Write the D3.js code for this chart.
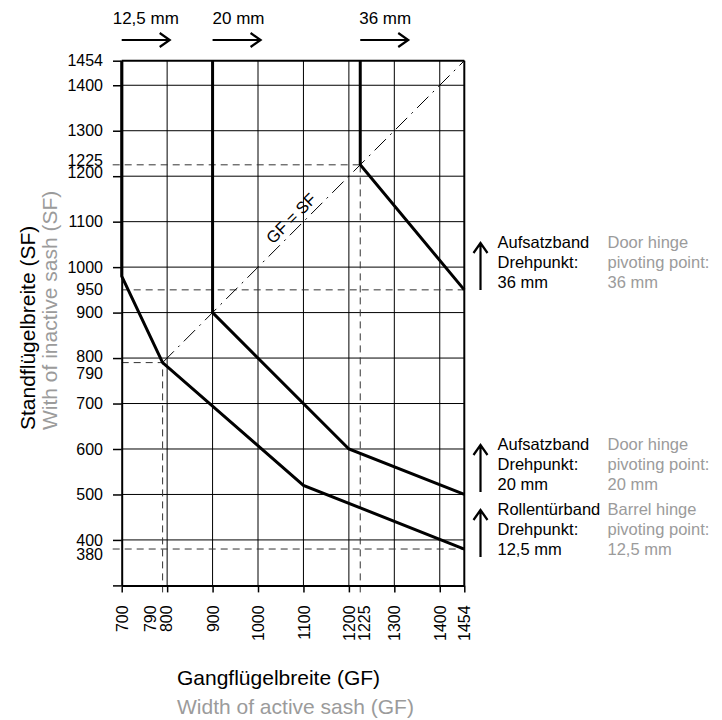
<!DOCTYPE html>
<html>
<head>
<meta charset="utf-8">
<script src="https://cdn.jsdelivr.net/npm/d3@7"></script>
<style>
body { margin: 0; background: #fff; }
svg { display: block; font-family: Arial, "Liberation Sans", sans-serif; }
</style>
</head>
<body>
<svg id="chart" width="722" height="720"></svg>
<script>
// tick values on both axes
var xTicks = [700, 790, 800, 900, 1000, 1100, 1200, 1225, 1300, 1400, 1454];
var yTicks = [300, 380, 400, 500, 600, 700, 790, 800, 900, 950, 1000, 1100, 1200, 1225, 1300, 1400, 1454];
var gridX = [800, 900, 1000, 1100, 1200, 1300, 1400];
var gridY = [400, 500, 600, 700, 800, 900, 1000, 1100, 1200, 1300, 1400];

// curves [GF, SF]
var curve125 = [[700, 1454], [700, 980], [790, 790], [1100, 520], [1454, 380]];
var curve20 = [[900, 1454], [900, 900], [1200, 600], [1454, 500]];
var curve36 = [[1225, 1454], [1225, 1225], [1454, 950]];
var diagonal = [[790, 790], [1454, 1454]];

// helper dashed lines
var dashH = [[1225, 700, 1225], [950, 700, 1454], [790, 700, 790], [380, 700, 1454]];
var dashV = [[790, 300, 790], [1225, 300, 1225]];

var hingeNames = ["12,5 mm", "20 mm", "36 mm"];
var hingeStart = [700, 900, 1225];
var notesDe = [["Aufsatzband", "Drehpunkt:", "36 mm"], ["Aufsatzband", "Drehpunkt:", "20 mm"], ["Rollentürband", "Drehpunkt:", "12,5 mm"]];
var notesEn = [["Door hinge", "pivoting point:", "36 mm"], ["Door hinge", "pivoting point:", "20 mm"], ["Barrel hinge", "pivoting point:", "12,5 mm"]];

var svg = d3.select("#chart");
var x = d3.scaleLinear().domain([700, 1454]).range([121.7, 464.3]);
var y = d3.scaleLinear().domain([300, 1454]).range([585.4, 60.7]);
var GRAY = "#9b9b9b";
var FONT = "Arial, 'Liberation Sans', sans-serif";

svg.append("rect").attr("width", 722).attr("height", 720).attr("fill", "#fff");

// grid
var g_grid = svg.append("g").attr("stroke", "#000").attr("stroke-width", 1);
g_grid.selectAll(".gx").data(gridX).enter().append("line")
    .attr("x1", d => x(d)).attr("x2", d => x(d))
    .attr("y1", y(300)).attr("y2", y(1454));
g_grid.selectAll(".gy").data(gridY).enter().append("line")
    .attr("x1", x(700)).attr("x2", x(1454))
    .attr("y1", d => y(d)).attr("y2", d => y(d));
// borders top / right
svg.append("line").attr("x1", x(700)).attr("x2", x(1454)).attr("y1", y(1454)).attr("y2", y(1454))
    .attr("stroke", "#000").attr("stroke-width", 2);
svg.append("line").attr("x1", x(1454)).attr("x2", x(1454)).attr("y1", y(300)).attr("y2", y(1454))
    .attr("stroke", "#000").attr("stroke-width", 2);

// dashed helper lines
var g_dash = svg.append("g").attr("stroke", "#333").attr("stroke-width", 1).attr("stroke-dasharray", "7,5");
g_dash.selectAll(".dh").data(dashH).enter().append("line")
    .attr("x1", d => (d[0] == 1225 || d[0] == 380) ? x(d[1]) - 9 : x(d[1]))
    .attr("x2", d => x(d[2]))
    .attr("y1", d => y(d[0])).attr("y2", d => y(d[0]));
g_dash.selectAll(".dv").data(dashV).enter().append("line")
    .attr("x1", d => x(d[0])).attr("x2", d => x(d[0]))
    .attr("y1", d => y(d[1]) + 7).attr("y2", d => y(d[2]));

// GF = SF diagonal
var line = d3.line().x(d => x(d[0])).y(d => y(d[1]));
svg.append("path").attr("d", line(diagonal)).attr("fill", "none")
    .attr("stroke", "#000").attr("stroke-width", 1).attr("stroke-dasharray", "16,6,2,6");
svg.append("text")
    .attr("transform", "translate(" + (x(1090) - 8) + "," + (y(1090) - 8) + ") rotate(-45)")
    .attr("text-anchor", "middle").attr("dominant-baseline", "central")
    .attr("font-size", 16.5).text("GF = SF");

// axes
var xAxis = d3.axisBottom(x).tickValues(xTicks).tickSize(7).tickSizeOuter(0).tickFormat(d3.format("d"));
var gx = svg.append("g").attr("transform", "translate(0," + y(300) + ")").call(xAxis);
var xShift = {790: -12.5, 800: -1.5, 1225: 4};
gx.selectAll(".tick line").attr("stroke-width", 1.5)
    .attr("display", d => (d == 790 || d == 1225) ? "none" : null);
gx.selectAll(".tick text")
    .attr("font-size", 16).attr("font-family", FONT).attr("fill", "#000")
    .attr("transform", "rotate(-90)").attr("text-anchor", "end")
    .attr("x", -20).attr("y", d => xShift[d] || 0).attr("dy", "0.35em");
gx.select(".domain").attr("stroke-width", 2);

var yAxis = d3.axisLeft(y).tickValues(yTicks).tickSize(8.7).tickPadding(10).tickSizeOuter(0)
    .tickFormat(d => d == 300 ? "" : d);
var gy = svg.append("g").attr("transform", "translate(" + x(700) + ",0)").call(yAxis);
var yShift = {1225: -4, 1200: -3.5, 800: -1.5, 790: 11, 380: 5};
gy.selectAll(".tick line").attr("stroke-width", 1.5)
    .attr("display", d => [1225, 950, 790, 380].indexOf(d) >= 0 ? "none" : null);
gy.selectAll(".tick text")
    .attr("font-size", 16).attr("font-family", FONT).attr("fill", "#000")
    .attr("y", d => yShift[d] || 0);
gy.select(".domain").attr("stroke-width", 2);

// curves
var g_curves = svg.append("g").attr("fill", "none").attr("stroke", "#000")
    .attr("stroke-width", 3).attr("stroke-linejoin", "miter");
[curve125, curve20, curve36].forEach(function(c) {
    g_curves.append("path").attr("d", line(c));
});

// top hinge arrows
function arrowRight(x0, y0, len) {
    return "M" + x0 + "," + y0 + "H" + (x0 + len) +
        "M" + (x0 + len - 10) + "," + (y0 - 7) + "L" + (x0 + len) + "," + y0 + "L" + (x0 + len - 10) + "," + (y0 + 7);
}
var textShift = [-9, 0, -1];
hingeStart.forEach(function(v, i) {
    svg.append("text").attr("x", x(v) + textShift[i]).attr("y", 24)
        .attr("font-size", 17).text(hingeNames[i]);
    svg.append("path").attr("d", arrowRight(x(v), 40, 48))
        .attr("fill", "none").attr("stroke", "#000").attr("stroke-width", 2.2);
});

// right side notes
function arrowUp(x0, y0, len) {
    return "M" + x0 + "," + y0 + "V" + (y0 - len) +
        "M" + (x0 - 7) + "," + (y0 - len + 10) + "L" + x0 + "," + (y0 - len) + "L" + (x0 + 7) + "," + (y0 - len + 10);
}
var noteBase = [288, 490, 555];
notesDe.forEach(function(lines, i) {
    var b = noteBase[i];
    svg.append("path").attr("d", arrowUp(480.5, b + 2, 47))
        .attr("fill", "none").attr("stroke", "#000").attr("stroke-width", 2.2);
    lines.forEach(function(t, j) {
        svg.append("text").attr("x", 497.5).attr("y", b - 40 + j * 20)
            .attr("font-size", 16.5).text(t);
        svg.append("text").attr("x", 607.5).attr("y", b - 40 + j * 20)
            .attr("font-size", 16.5).attr("fill", GRAY).text(notesEn[i][j]);
    });
});

// axis titles
svg.append("text").attr("x", 177).attr("y", 685).attr("font-size", 21).text("Gangflügelbreite (GF)");
svg.append("text").attr("x", 177).attr("y", 714).attr("font-size", 21).attr("fill", GRAY).text("Width of active sash (GF)");
svg.append("text").attr("transform", "translate(35,430) rotate(-90)").attr("font-size", 21).text("Standflügelbreite (SF)");
svg.append("text").attr("transform", "translate(57,430) rotate(-90)").attr("font-size", 21).attr("fill", GRAY).text("With of inactive sash (SF)");
</script>
</body>
</html>
